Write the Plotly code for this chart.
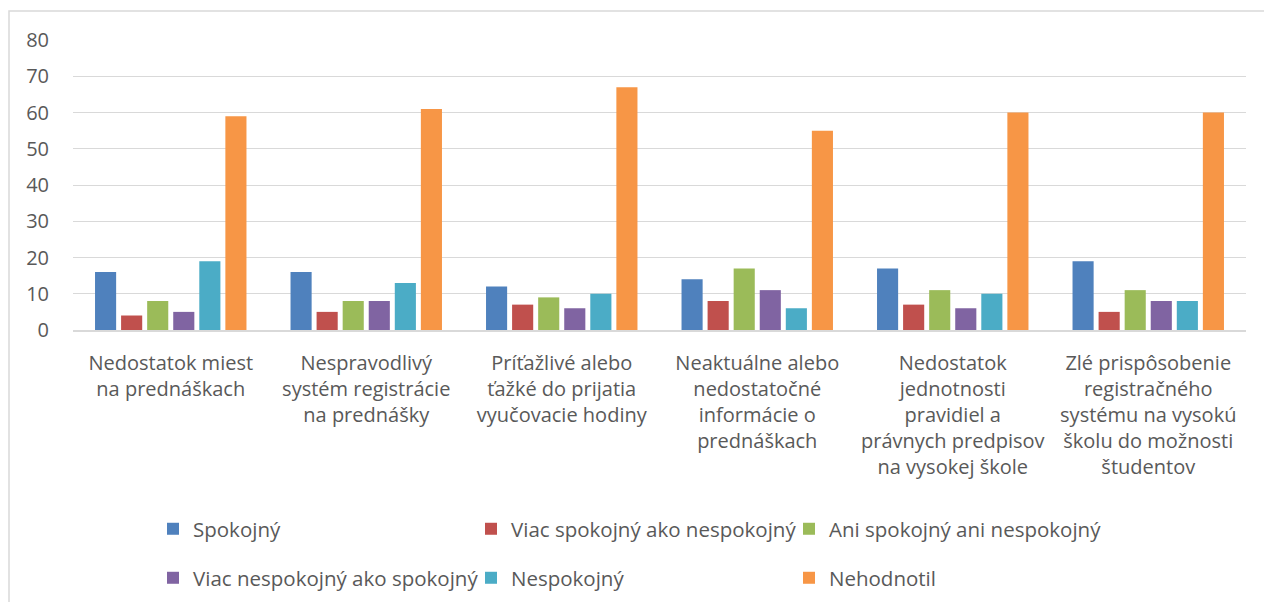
import plotly.graph_objects as go

categories = [
    "Nedostatok miest<br>na prednáškach",
    "Nespravodlivý<br>systém registrácie<br>na prednášky",
    "Príťažlivé alebo<br>ťažké do prijatia<br>vyučovacie hodiny",
    "Neaktuálne alebo<br>nedostatočné<br>informácie o<br>prednáškach",
    "Nedostatok<br>jednotnosti<br>pravidiel a<br>právnych predpisov<br>na vysokej škole",
    "Zlé prispôsobenie<br>registračného<br>systému na vysokú<br>školu do možnosti<br>študentov",
]

spokojny = [16, 16, 12, 14, 17, 19]
viac_spokojny = [4, 5, 7, 8, 7, 5]
ani = [8, 8, 9, 17, 11, 11]
viac_nespokojny = [5, 8, 6, 11, 6, 8]
nespokojny = [19, 13, 10, 6, 10, 8]
nehodnotil = [59, 61, 67, 55, 60, 60]

series = [
    ("Spokojný", spokojny, "#4F81BD", "legend"),
    ("Viac spokojný ako nespokojný", viac_spokojny, "#C0504D", "legend"),
    ("Ani spokojný ani nespokojný", ani, "#9BBB59", "legend"),
    ("Viac nespokojný ako spokojný", viac_nespokojny, "#8064A2", "legend2"),
    ("Nespokojný", nespokojny, "#4BACC6", "legend2"),
    ("Nehodnotil", nehodnotil, "#F79646", "legend2"),
]

FONT = "Open Sans"
GREY = "#595959"

fig = go.Figure()
for name, vals, color, leg in series:
    fig.add_trace(go.Bar(
        x=categories, y=vals, name=name, legend=leg,
        marker=dict(color=color, line=dict(width=0)),
    ))

legend_common = dict(
    orientation="h", xanchor="left", yanchor="middle",
    entrywidth=273, entrywidthmode="pixels", itemwidth=30,
    font=dict(family=FONT, size=20.5, color=GREY),
    bgcolor="rgba(0,0,0,0)", traceorder="normal",
)

fig.update_layout(
    width=1264, height=602,
    margin=dict(l=73, r=18, t=40, b=272, autoexpand=False),
    paper_bgcolor="white", plot_bgcolor="white",
    font=dict(family=FONT, size=20, color=GREY),
    barmode="group", bargap=0.2, bargroupgap=0.19,
    legend=dict(x=0.0682, y=-0.686, **legend_common),
    legend2=dict(x=0.0682, y=-0.855, **legend_common),
    shapes=[dict(
        type="rect", xref="paper", yref="paper",
        x0=(9 - 73) / 1173, x1=(1300 - 73) / 1173,
        y0=(330 - 700) / 290, y1=(330 - 11) / 290,
        line=dict(color="#d9d9d9", width=1.5), layer="below",
    )],
)

fig.update_yaxes(
    range=[0, 80], dtick=10, showgrid=True, gridcolor="#d9d9d9", gridwidth=1,
    zeroline=False, showline=False, ticks="", ticklabelstandoff=23,
    automargin=False,
    tickfont=dict(family=FONT, size=20, color=GREY),
)
fig.update_xaxes(
    showline=True, linecolor="#d9d9d9", linewidth=1.5, ticks="",
    ticklabelstandoff=14, tickangle=0, automargin=False,
    tickfont=dict(family=FONT, size=20, color=GREY),
)

# drop the default 8px page margin so the figure sits at the window origin
fig.write_html(
    "out.html",
    config={"displayModeBar": False},
    post_script="document.body.style.margin='0';",
)
